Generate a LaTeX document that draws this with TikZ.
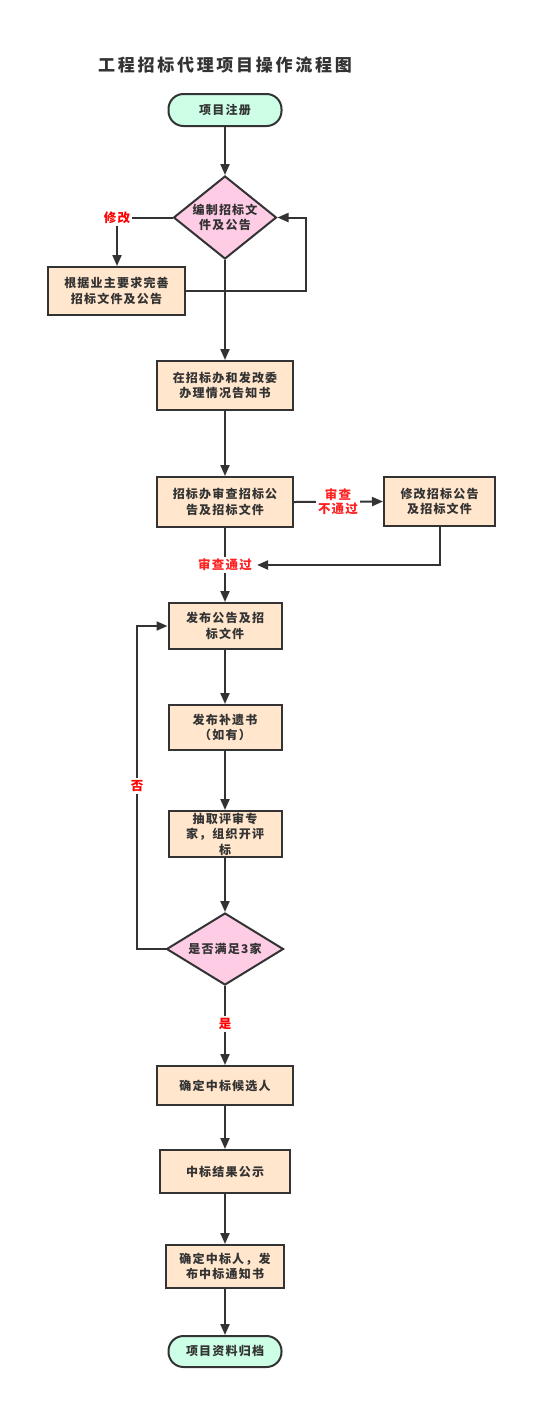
\documentclass[tikz,border=0pt]{standalone}
\usepackage{fontspec}
\setmainfont{Noto Sans CJK SC}[LetterSpace=10]
\usetikzlibrary{shapes.geometric,arrows.meta}
\pgfdeclarelayer{back}
\pgfdeclarelayer{bg}
\pgfsetlayers{back,bg,main}
\definecolor{ink}{HTML}{333333}
\definecolor{mint}{HTML}{CCFFE6}
\definecolor{pinkf}{HTML}{FFCCE6}
\definecolor{peach}{HTML}{FFE6CC}
\definecolor{lblred}{HTML}{FF2222}
\tikzset{
  txt/.style={font=\fontsize{12}{15.5}\selectfont\bfseries, text=ink, align=center},
  base/.style={txt, draw=ink, line width=2pt, inner sep=0pt},
  procbox/.style={base, rectangle, fill=peach},
  termbox/.style={base, rectangle, rounded corners=15pt, fill=mint},
  decbox/.style={base, diamond, fill=pinkf},
  lbl/.style={font=\fontsize{12.5}{15.5}\selectfont\bfseries, text=lblred, fill=white, align=center, inner sep=2pt},
  conn/.style={draw=ink, line width=2pt},
  arr/.style={conn, -{Triangle[length=11pt,width=9pt]}},
}
\begin{document}
\begin{tikzpicture}[x=1pt,y=-1pt]
\begin{pgfonlayer}{back}
\fill[white] (0,0) rectangle (556,1428);
\end{pgfonlayer}
\useasboundingbox (0,0) rectangle (556,1428);

\node[font=\fontsize{17}{20}\selectfont\bfseries, text=ink] (title) at (225,65) {\addfontfeatures{LetterSpace=16}工程招标代理项目操作流程图};

\node[termbox, minimum width=113pt, minimum height=32pt] (start) at (225,110) {项目注册};
\node[decbox, minimum width=103pt, minimum height=83pt, label={[txt]center:编制招标文\\件及公告}] (d1) at (225,217.5) {};
\node[procbox, minimum width=137pt, minimum height=48pt] (b1) at (116.5,291) {根据业主要求完善\\招标文件及公告};
\node[procbox, minimum width=136pt, minimum height=49pt] (b2) at (225,385.5) {在招标办和发改委\\办理情况告知书};
\node[procbox, minimum width=136pt, minimum height=50pt] (b3) at (225,502) {招标办审查招标公\\告及招标文件};
\node[procbox, minimum width=111pt, minimum height=49pt] (b4) at (439.5,501.5) {修改招标公告\\及招标文件};
\node[procbox, minimum width=113pt, minimum height=46pt] (b5) at (225,626) {发布公告及招\\标文件};
\node[procbox, minimum width=113pt, minimum height=45pt] (b6) at (225,727.5) {发布补遗书\\（如有）};
\node[procbox, minimum width=113pt, minimum height=46pt] (b7) at (225,834) {抽取评审专\\家，组织开评\\标};
\node[decbox, minimum width=117pt, minimum height=72pt, label={[txt]center:是否满足3家}] (d2) at (225,949) {};
\node[procbox, minimum width=136pt, minimum height=39pt] (b8) at (225,1085.5) {确定中标候选人};
\node[procbox, minimum width=130pt, minimum height=43pt] (b9) at (225,1171.5) {中标结果公示};
\node[procbox, minimum width=118pt, minimum height=43pt] (b10) at (225,1266.5) {确定中标人，发\\布中标通知书};
\node[termbox, minimum width=113pt, minimum height=31pt] (end) at (225,1351.5) {项目资料归档};

\coordinate (c1) at (117,217.5);
\coordinate (c2) at (306,291);
\coordinate (c3) at (137,949);
\node[lbl, text=red] (l1) at (c1) {修改};
\node[lbl] (l2) at (225,565) {审查通过};
\node[lbl, font=\fontsize{12.5}{14}\selectfont\bfseries] (l3) at (338,502) {审查\\不通过};
\node[lbl, text=red] (l4) at (137,786) {否};
\node[lbl, text=red] (l5) at (225,1024) {是};

\begin{pgfonlayer}{bg}
\draw[arr] (start.south) -- (d1.north);
\draw[conn] (d1.west) -- (c1);
\draw[arr] (l1.south) -- (b1.north -| l1.south);
\draw[arr] (b1.east) -- (c2) |- (d1.east);
\draw[arr] (d1.south) -- (b2.north);
\draw[arr] (b2.south) -- (b3.north);
\draw[arr] (b3.east) -- (b4.west);
\draw[arr] (b4.south) |- ([xshift=3pt]l2.east);
\draw[arr] (b3.south) -- (b5.north);
\draw[arr] (b5.south) -- (b6.north);
\draw[arr] (b6.south) -- (b7.north);
\draw[arr] (b7.south) -- (d2.north);
\draw[arr] (d2.west) -- (c3) |- (b5.west);
\draw[arr] (d2.south) -- (b8.north);
\draw[arr] (b8.south) -- (b9.north);
\draw[arr] (b9.south) -- (b10.north);
\draw[arr] (b10.south) -- (end.north);
\end{pgfonlayer}
\end{tikzpicture}
\end{document}
